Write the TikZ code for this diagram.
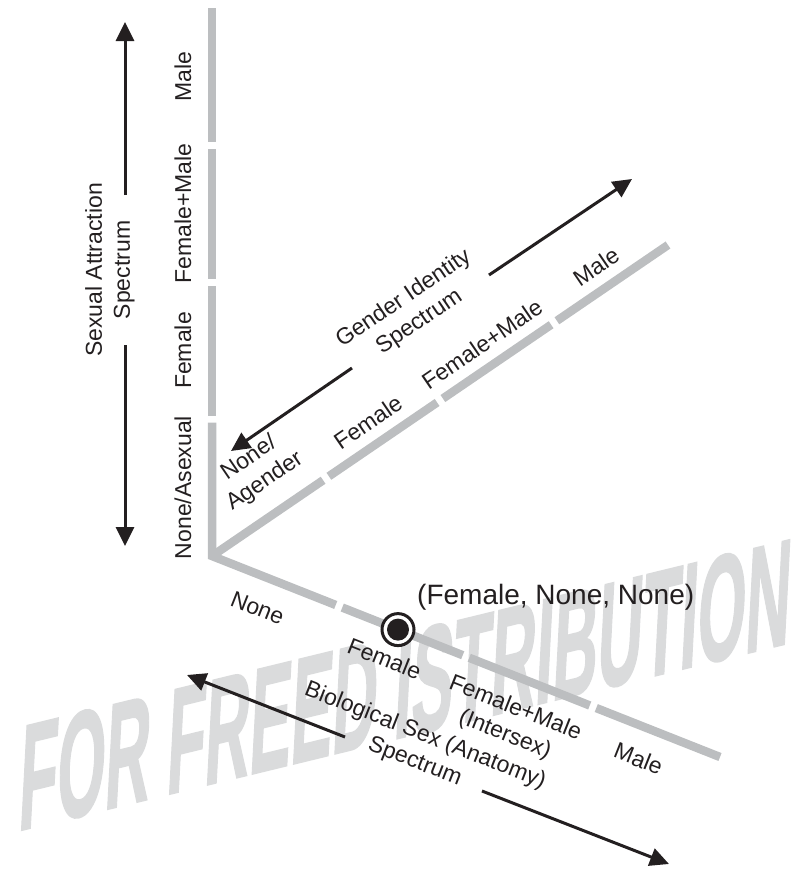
\documentclass[tikz,border=0pt]{standalone}
\usepackage{fontspec}
\setmainfont{Liberation Sans}
\newfontfamily\markfont[FakeBold=1.5]{Liberation Sans Bold}
\usetikzlibrary{arrows.meta,calc}
\definecolor{axisgray}{HTML}{BCBEC0}
\definecolor{markgray}{HTML}{DADBDC}
\definecolor{ink}{HTML}{231F20}
\begin{document}
\begin{tikzpicture}[x=1pt,y=-1pt,
  axis/.style={draw=axisgray, line width=8.5pt},
  spec/.style={draw=ink, line width=3pt, -{Triangle[length=19pt,width=18pt]}},
  lbl/.style={font=\fontsize{23}{28}\selectfont, text=ink, inner sep=0pt, align=center},
  spectitle/.style={lbl},
  ]
\useasboundingbox (0,0) rectangle (803,871);

% watermark behind everything
\node[font=\fontsize{145}{145}\selectfont\markfont, text=markgray, inner sep=0pt,
      anchor=base, rotate=13.7, xslant=0.3, xscale=0.44] (wm) at (403,737) {FOR FREED ISTRIBUTION};

% axes: origin, ends and quarter ticks
\coordinate (O) at (212,556);
\coordinate (Vend) at (212,8);
\coordinate (Gend) at (668,245);
\coordinate (Bend) at (720,757);
\foreach \i/\t in {1/0.25,2/0.5,3/0.75}{
  \coordinate (V\i) at ($(O)!\t!(Vend)$);
  \coordinate (G\i) at ($(O)!\t!(Gend)$);
  \coordinate (B\i) at ($(O)!\t!(Bend)$);
}

% vertical axis (sexual attraction) with the corner into the sex axis
\draw[axis, line join=miter] ($(V1)!3.5pt!(O)$) -- (O) -- ($(B1)!3.5pt!(O)$);
\draw[axis] ($(V1)!3.5pt!(V2)$) -- ($(V2)!3.5pt!(V1)$);
\draw[axis] ($(V2)!3.5pt!(V3)$) -- ($(V3)!3.5pt!(V2)$);
\draw[axis] ($(V3)!3.5pt!(Vend)$) -- (Vend);
% gender identity axis
\draw[axis] (O) -- ($(G1)!3.5pt!(O)$);
\draw[axis] ($(G1)!3.5pt!(G2)$) -- ($(G2)!3.5pt!(G1)$);
\draw[axis] ($(G2)!3.5pt!(G3)$) -- ($(G3)!3.5pt!(G2)$);
\draw[axis] ($(G3)!3.5pt!(Gend)$) -- (Gend);
% biological sex axis
\draw[axis] ($(B1)!3.5pt!(B2)$) -- ($(B2)!3.5pt!(B1)$);
\draw[axis] ($(B2)!3.5pt!(B3)$) -- ($(B3)!3.5pt!(B2)$);
\draw[axis] ($(B3)!3.5pt!(Bend)$) -- (Bend);

% labels of the vertical axis
\node[lbl, rotate=90] (va1) at (183,487.5) {None/Asexual};
\node[lbl, rotate=90] (va2) at (183,350.5) {Female};
\node[lbl, rotate=90] (va3) at (183,213.5) {Female+Male};
\node[lbl, rotate=90] (va4) at (183,76.5) {Male};

% labels of the gender identity axis
\node[lbl, rotate=34.3] (ga1) at (257,470) {None/\\Agender};
\node[lbl, rotate=34.3] (ga2) at (368,422) {Female};
\node[lbl, rotate=34.3] (ga3) at (482,344) {Female+Male};
\node[lbl, rotate=34.3] (ga4) at (596,266.5) {Male};

% labels of the biological sex axis
\node[lbl, rotate=-21.6] (ba1) at (257.6,608) {None};
\node[lbl, rotate=-21.6] (ba2) at (384.6,658.5) {Female};
\node[lbl, rotate=-21.6] (ba3) at (510,722) {Female+Male\\(Intersex)};
\node[lbl, rotate=-21.6] (ba4) at (638.6,758.5) {Male};

% spectrum titles with their double arrows
\node[spectitle, rotate=90] (sat) at (110,270) {Sexual Attraction\\Spectrum};
\coordinate (satop) at (125,22);
\coordinate (sabot) at (125,546);
\coordinate (sa1) at (125,195);
\coordinate (sa2) at (125,345);
\draw[spec] (sa1) -- (satop);
\draw[spec] (sa2) -- (sabot);

\node[spectitle, rotate=34.2] (gis) at (411.6,310.4) {Gender Identity\\Spectrum};
\coordinate (gitip1) at (231,451);
\coordinate (gitip2) at (632,179);
\coordinate (gi1) at (352,368);
\coordinate (gi2) at (489,275);
\draw[spec] (gi1) -- (gitip1);
\draw[spec] (gi2) -- (gitip2);

\node[spectitle, rotate=-21.4] (bss) at (420,749) {Biological Sex (Anatomy)\\Spectrum};
\coordinate (bstip1) at (187,675);
\coordinate (bstip2) at (669,864);
\coordinate (bs1) at (345,737);
\coordinate (bs2) at (482,791);
\draw[spec] (bs1) -- (bstip1);
\draw[spec] (bs2) -- (bstip2);

% the marked point
\node[circle, draw=ink, fill=white, line width=3pt, minimum size=32pt, inner sep=0pt] (pt) at (398,629.6) {};
\fill[ink] (pt.center) circle (11pt);
\node[anchor=west, font=\fontsize{28}{33}\selectfont, text=ink, inner sep=0pt] (ptl) at (417,597) {(Female, None, None)};
\end{tikzpicture}
\end{document}
